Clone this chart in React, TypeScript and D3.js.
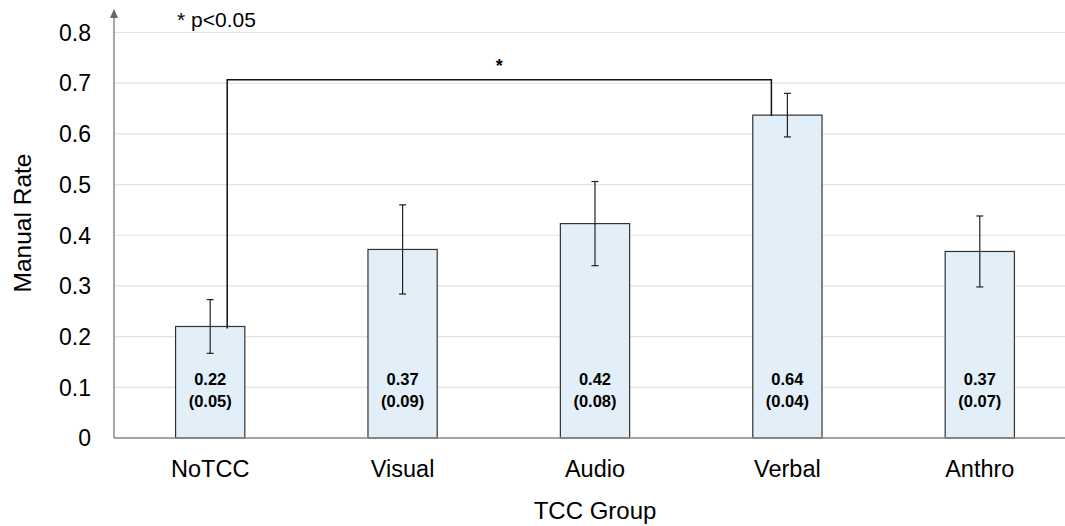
import React, { useEffect, useRef } from 'react';
import * as d3 from 'd3';

const groups = ['NoTCC', 'Visual', 'Audio', 'Verbal', 'Anthro'];
const means = [0.22, 0.372, 0.423, 0.637, 0.368];
const errs = [0.053, 0.088, 0.083, 0.043, 0.07];
const labels = ['0.22', '0.37', '0.42', '0.64', '0.37'];
const sds = ['(0.05)', '(0.09)', '(0.08)', '(0.04)', '(0.07)'];
const yTicks = [0, 0.1, 0.2, 0.3, 0.4, 0.5, 0.6, 0.7, 0.8];
const bracketLevel = 0.707;

const App = () => {
  const ref = useRef<SVGSVGElement>(null);

  useEffect(() => {
    const svg = d3.select(ref.current);
    svg.selectAll('*').remove();

    const width = 1065, height = 526;
    const font = 'Liberation Sans, Arial, sans-serif';
    const x = d3.scaleBand().domain(groups).range([114, 1076]).paddingInner(0.64).paddingOuter(0.32);
    const y = d3.scaleLinear().domain([0, 0.8]).range([438, 32.5]);

    svg.attr('width', width).attr('height', height).style('font-family', font);

    // gridlines
    svg.append('g').selectAll('line')
      .data(yTicks.slice(1))
      .join('line')
      .attr('x1', 114).attr('x2', width)
      .attr('y1', d => y(d)).attr('y2', d => y(d))
      .attr('stroke', '#e3e3e3').attr('stroke-width', 1.2);

    // tick labels
    svg.append('g').selectAll('text')
      .data(yTicks)
      .join('text')
      .attr('x', 91).attr('y', d => y(d))
      .attr('dy', '0.36em')
      .attr('text-anchor', 'end')
      .attr('font-size', 23)
      .text(d => d === 0 ? '0' : d3.format('.1f')(d));

    // bars
    svg.append('g').selectAll('rect')
      .data(groups)
      .join('rect')
      .attr('x', d => x(d)!)
      .attr('width', x.bandwidth())
      .attr('y', (d, i) => y(means[i]))
      .attr('height', (d, i) => y(0) - y(means[i]))
      .attr('fill', '#e2eff9')
      .attr('stroke', '#333')
      .attr('stroke-width', 1.2);

    // error bars
    const eb = svg.append('g').attr('stroke', '#222').attr('stroke-width', 1.2);
    groups.forEach((g, i) => {
      const cx = x(g)! + x.bandwidth() / 2;
      eb.append('line').attr('x1', cx).attr('x2', cx)
        .attr('y1', y(means[i] + errs[i])).attr('y2', y(means[i] - errs[i]));
      [means[i] + errs[i], means[i] - errs[i]].forEach(v => {
        eb.append('line').attr('x1', cx - 3.5).attr('x2', cx + 3.5)
          .attr('y1', y(v)).attr('y2', y(v));
      });
    });

    // bar value labels
    const lab = svg.append('g').attr('text-anchor', 'middle').attr('font-size', 16.5)
      .attr('font-weight', 'bold');
    groups.forEach((g, i) => {
      const cx = x(g)! + x.bandwidth() / 2;
      lab.append('text').attr('x', cx).attr('y', 385).text(labels[i]);
      lab.append('text').attr('x', cx).attr('y', 406.5).text(sds[i]);
    });

    // axes
    svg.append('line').attr('x1', 114).attr('x2', width)
      .attr('y1', y(0)).attr('y2', y(0))
      .attr('stroke', '#888').attr('stroke-width', 1.5);
    svg.append('line').attr('x1', 114).attr('x2', 114)
      .attr('y1', y(0)).attr('y2', 16)
      .attr('stroke', '#777').attr('stroke-width', 1.3);
    svg.append('path').attr('d', 'M110,18 L118,18 L114,9 Z').attr('fill', '#666');

    // x labels
    svg.append('g').selectAll('text')
      .data(groups)
      .join('text')
      .attr('x', d => x(d)! + x.bandwidth() / 2)
      .attr('y', 477)
      .attr('text-anchor', 'middle')
      .attr('font-size', 23.5)
      .text(d => d);

    svg.append('text')
      .attr('x', (x(groups[0])! + x(groups[4])! + x.bandwidth()) / 2)
      .attr('y', 519)
      .attr('text-anchor', 'middle')
      .attr('font-size', 24)
      .text('TCC Group');

    svg.append('text')
      .attr('transform', `translate(31, 223) rotate(-90)`)
      .attr('text-anchor', 'middle')
      .attr('font-size', 24.5)
      .text('Manual Rate');

    // significance bracket
    const x1 = x('NoTCC')! + x.bandwidth() / 2 + 17;
    const x2 = x('Verbal')! + x.bandwidth() / 2 - 16;
    svg.append('path')
      .attr('d', `M${x1},${y(means[0]) + 2} V${y(bracketLevel)} H${x2} V${y(means[3]) + 1}`)
      .attr('fill', 'none').attr('stroke', '#111').attr('stroke-width', 1.5);
    svg.append('text')
      .attr('x', (x1 + x2) / 2).attr('y', 72)
      .attr('text-anchor', 'middle').attr('font-size', 18).attr('font-weight', 'bold')
      .text('*');

    svg.append('text')
      .attr('x', 177).attr('y', 27)
      .attr('font-size', 21)
      .text('* p<0.05');
  }, []);

  return <svg ref={ref} style={{ position: 'absolute', left: 0, top: 0 }}></svg>;
};

export default App;
